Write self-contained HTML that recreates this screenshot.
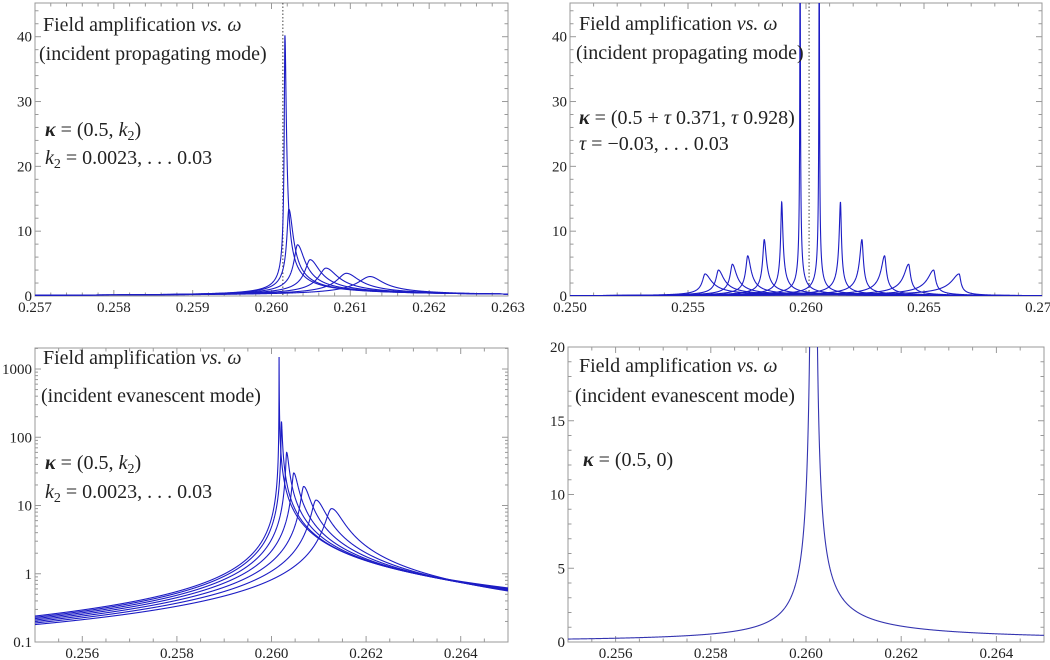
<!DOCTYPE html>
<html><head><meta charset="utf-8">
<style>
html,body{margin:0;padding:0;background:#fff;}
svg{display:block;}
text{font-family:"Liberation Serif","DejaVu Serif",serif;fill:#222;}
.tk{font-size:15px;}
.ann{font-size:20px;}
</style></head>
<body>
<svg id="chart" width="1050" height="660" viewBox="0 0 1050 660" font-family="Liberation Serif, serif"></svg>
<script>
// ---------- data ----------
// Panel A: propagating mode, kappa=(0.5,k2)
const aCenters = [0.26017,0.26022,0.26033,0.26049,0.26069,0.26095,0.26125];
const aHeights = [40.2,13.4,7.9,5.6,4.3,3.5,3.0];
const aTailL = [0.12,0.12,0.12,0.12,0.12,0.12,0.12];
const aTailR = [0.3,0.3,0.3,0.3,0.3,0.3,0.3];
// Panel B: propagating, tau=-0.03..0.03
const bCenters = [0.25572,0.25629,0.25688,0.25753,0.25823,0.25897,0.25975,0.26056,0.26146,0.26237,0.26333,0.26435,0.26541,0.26649];
const bHeights = [3.4,4.0,4.9,6.2,8.7,14.5,60,60,14.5,8.7,6.2,4.9,4.0,3.4];
const bTails = [0.06,0.06,0.06,0.06,0.06,0.06,0.06,0.06,0.06,0.06,0.06,0.06,0.06,0.06];
// Panel C: evanescent, log scale
const cCenters = [0.26016,0.26021,0.26032,0.26047,0.26068,0.26094,0.26127];
const cHeights = [1500,170,60,30,19,12,9];
const cTailL = [0.24,0.23,0.22,0.21,0.20,0.19,0.18];
const cTailR = [0.62,0.61,0.60,0.59,0.58,0.57,0.56];
// Panel D: evanescent, kappa=(0.5,0)
const dCenters = [0.26017];
const dHeights = [1000];
const dTailL = [0.2];
const dTailR = [0.45];
// tick labels
const aXTicks = ["0.257","0.258","0.259","0.260","0.261","0.262","0.263"];
const aYTicks = ["0","10","20","30","40"];
const bXTicks = ["0.250","0.255","0.260","0.265","0.270"];
const cXTicks = ["0.256","0.258","0.260","0.262","0.264"];
const cYTicks = ["0.1","1","10","100","1000"];
const dYTicks = ["0","5","10","15","20"];

const svg = document.getElementById('chart');
const NS = 'http://www.w3.org/2000/svg';
const FONT = 'Liberation Serif, DejaVu Serif, serif';
function mk(tag, attrs, parent){
  const e = document.createElementNS(NS, tag);
  for (const k in attrs) e.setAttribute(k, attrs[k]);
  (parent||svg).appendChild(e); return e;
}
const BLUE = '#1c1cc4';

function panel(p){
  const g = mk('g', {});
  
  
  const sx = v => p.x0 + (v - p.xmin) / (p.xmax - p.xmin) * (p.x1 - p.x0);
  const sy = p.log
    ? v => p.y0 - (Math.log10(Math.max(v,1e-9)) - Math.log10(p.ymin)) / (Math.log10(p.ymax) - Math.log10(p.ymin)) * (p.y0 - p.top)
    : v => p.y0 - (v - p.ymin) / (p.ymax - p.ymin) * (p.y0 - p.top);
  const id = 'clip-' + p.name;
  const cp = mk('clipPath', {id: id}, g);
  mk('rect', {x: p.x0, y: p.top, width: p.x1 - p.x0, height: p.y0 - p.top}, cp);
  const fr = mk('rect', {x: p.x0, y: p.top, width: p.x1 - p.x0, height: p.y0 - p.top, fill: 'none', stroke: '#999', 'stroke-width': 1}, g);
  
  
  const xg = mk('g', {}, g);
  
  
  const nx = Math.round((p.xmax - p.xmin) / p.xminor);
  for (let k = 0; k <= nx; k++) {
    const v = p.xmin + k * p.xminor;
    const X = sx(v);
    const r = (v - p.xmajStart) / p.xmaj;
    const isMaj = Math.abs(r - Math.round(r)) < 1e-4;
    const L = isMaj ? 6 : 3.5;
    mk('line', {x1: X, x2: X, y1: p.y0, y2: p.y0 - L, stroke: '#999'}, xg);
    mk('line', {x1: X, x2: X, y1: p.top, y2: p.top + L, stroke: '#999'}, xg);
  }
  p.xTicks.forEach(s => {
    const t = mk('text', {x: sx(parseFloat(s)), y: p.y0 + 16, 'text-anchor': 'middle', class: 'tk', 'font-family': FONT, 'font-size': 15}, xg);
    t.textContent = s;
    
    
  });
  const yg = mk('g', {}, g);
  
  
  if (p.log) {
    for (let e = Math.round(Math.log10(p.ymin)); e < Math.log10(p.ymax); e++) {
      for (let m = 1; m <= 9; m++) {
        const v = m * Math.pow(10, e);
        const Y = sy(v); if (Y < p.top) break;
        const L = m === 1 ? 6 : 3;
        mk('line', {x1: p.x0, x2: p.x0 + L, y1: Y, y2: Y, stroke: '#999'}, yg);
        mk('line', {x1: p.x1, x2: p.x1 - L, y1: Y, y2: Y, stroke: '#999'}, yg);
      }
    }
  } else {
    const ny = Math.round((p.ymaxTick - p.ymin) / p.yminor);
    for (let k = 0; k <= ny; k++) {
      const v = p.ymin + k * p.yminor;
      const Y = sy(v);
      if (Y < p.top - 0.5) break;
      const r = v / p.ymaj;
      const isMaj = Math.abs(r - Math.round(r)) < 1e-6;
      const L = isMaj ? 6 : 3.5;
      mk('line', {x1: p.x0, x2: p.x0 + L, y1: Y, y2: Y, stroke: '#999'}, yg);
      mk('line', {x1: p.x1, x2: p.x1 - L, y1: Y, y2: Y, stroke: '#999'}, yg);
    }
  }
  p.yTicks.forEach(s => {
    const t = mk('text', {x: p.x0 - 3, y: sy(parseFloat(s)) + 5, 'text-anchor': 'end', class: 'tk', 'font-family': FONT, 'font-size': 15}, yg);
    t.textContent = s;
    
    
  });
  if (p.dotX) {
    const dl = mk('line', {x1: sx(p.dotX), x2: sx(p.dotX), y1: p.top, y2: p.y0, stroke: '#444', 'stroke-width': 1, 'stroke-dasharray': '1.5,2'}, g);
    
    
  }
  const cg = mk('g', {'clip-path': 'url(#' + id + ')'}, g);
  
  
  p.centers.forEach((w0, i) => {
    const H = p.heights[i];
    const CL = p.tailL[i] * Math.pow(Math.max(w0 - p.xmin, 1e-6), p.pL);
    const CR = p.tailR[i] * Math.pow(Math.max(p.xmax - w0, 1e-6), p.pR);
    const gL = Math.pow(CL / H, 1 / p.pL), gR = Math.pow(CR / H, 1 / p.pR);
    const f = w => { const d = w - w0; return d < 0 ? CL / Math.pow(d*d + gL*gL, p.pL/2) : CR / Math.pow(d*d + gR*gR, p.pR/2); };
    const ws = [];
    const N = 5000;
    for (let k = 0; k <= N; k++) ws.push(p.xmin + (p.xmax - p.xmin) * k / N);
    const gg = Math.min(gL, gR);
    [-20,-8,-4,-2,-1,-0.5,0,0.5,1,2,4,8,20].forEach(m => ws.push(w0 + m * gg));
    ws.sort((a, b) => a - b);
    let d = '';
    ws.forEach((w, k) => { const Y = Math.max(sy(f(w)), p.top - 50); d += (k ? 'L' : 'M') + sx(w).toFixed(2) + ',' + Y.toFixed(2); });
    const path = mk('path', {d: d, fill: 'none', stroke: p.color || BLUE, 'stroke-width': 1.1}, cg);
    
    
  });
  const ag = mk('g', {}, g);
  
  
  p.notes.forEach(n => {
    const t = mk('text', {x: n[0], y: n[1], class: 'ann', 'font-family': FONT, 'font-size': 20}, ag);
    t.innerHTML = n[2];
    
    
  });
}

panel({name:'panel-propagating-k2', x0:35, x1:508, y0:296, top:3, xmin:0.257, xmax:0.263, xminor:0.0002, xmaj:0.001, xmajStart:0.257,
  ymin:0, ymax:(296-3)/((296-36.7)/40), ymaxTick:44, yminor:2, ymaj:10, log:false,
  xTicks:aXTicks, yTicks:aYTicks, dotX:0.260144,
  centers:aCenters, heights:aHeights, tailL:aTailL, tailR:aTailR, pL:0.95, pR:0.95,
  notes:[[43,31,'Field amplification <tspan font-style="italic">vs.</tspan> <tspan font-style="italic">ω</tspan>'],
         [39,60,'(incident propagating mode)'],
         [45,136,'<tspan font-weight="bold" font-style="italic">κ</tspan> = (0.5, <tspan font-style="italic">k</tspan><tspan font-size="14" dy="4">2</tspan><tspan dy="-4">)</tspan>'],
         [45,164,'<tspan font-style="italic">k</tspan><tspan font-size="14" dy="4">2</tspan><tspan dy="-4"> = 0.0023, . . . 0.03</tspan>']]});

panel({name:'panel-propagating-tau', x0:570, x1:1042, y0:296, top:3, xmin:0.250, xmax:0.270, xminor:0.001, xmaj:0.005, xmajStart:0.250,
  ymin:0, ymax:(296-3)/((296-36.7)/40), ymaxTick:44, yminor:2, ymaj:10, log:false,
  xTicks:bXTicks, yTicks:aYTicks, dotX:0.26013,
  centers:bCenters, heights:bHeights, tailL:bTails, tailR:bTails, pL:1.0, pR:1.0,
  notes:[[579,30,'Field amplification <tspan font-style="italic">vs.</tspan> <tspan font-style="italic">ω</tspan>'],
         [576,59,'(incident propagating mode)'],
         [579,124,'<tspan font-weight="bold" font-style="italic">κ</tspan> = (0.5 + <tspan font-style="italic">τ</tspan> 0.371, <tspan font-style="italic">τ</tspan> 0.928)'],
         [579,150,'<tspan font-style="italic">τ</tspan> = −0.03, . . . 0.03']]});

panel({name:'panel-evanescent-log', x0:35, x1:508, y0:642, top:348, xmin:0.255, xmax:0.265, xminor:0.0005, xmaj:0.002, xmajStart:0.256,
  ymin:0.1, ymax:Math.pow(10, 3 + (369-348)/68.2), log:true,
  xTicks:cXTicks, yTicks:cYTicks,
  centers:cCenters, heights:cHeights, tailL:cTailL, tailR:cTailR, pL:0.95, pR:0.95,
  notes:[[43,364,'Field amplification <tspan font-style="italic">vs.</tspan> <tspan font-style="italic">ω</tspan>'],
         [41,402,'(incident evanescent mode)'],
         [45,469,'<tspan font-weight="bold" font-style="italic">κ</tspan> = (0.5, <tspan font-style="italic">k</tspan><tspan font-size="14" dy="4">2</tspan><tspan dy="-4">)</tspan>'],
         [45,498,'<tspan font-style="italic">k</tspan><tspan font-size="14" dy="4">2</tspan><tspan dy="-4"> = 0.0023, . . . 0.03</tspan>']]});

panel({name:'panel-evanescent-linear', x0:568, x1:1044, y0:642, top:347, xmin:0.255, xmax:0.265, xminor:0.0005, xmaj:0.002, xmajStart:0.256,
  ymin:0, ymax:20, ymaxTick:20, yminor:1, ymaj:5, log:false, color:'#3434b0',
  xTicks:cXTicks, yTicks:dYTicks,
  centers:dCenters, heights:dHeights, tailL:dTailL, tailR:dTailR, pL:1.15, pR:0.9,
  notes:[[579,372,'Field amplification <tspan font-style="italic">vs.</tspan> <tspan font-style="italic">ω</tspan>'],
         [575,402,'(incident evanescent mode)'],
         [583,466,'<tspan font-weight="bold" font-style="italic">κ</tspan> = (0.5, 0)']]});
</script>
</body></html>
